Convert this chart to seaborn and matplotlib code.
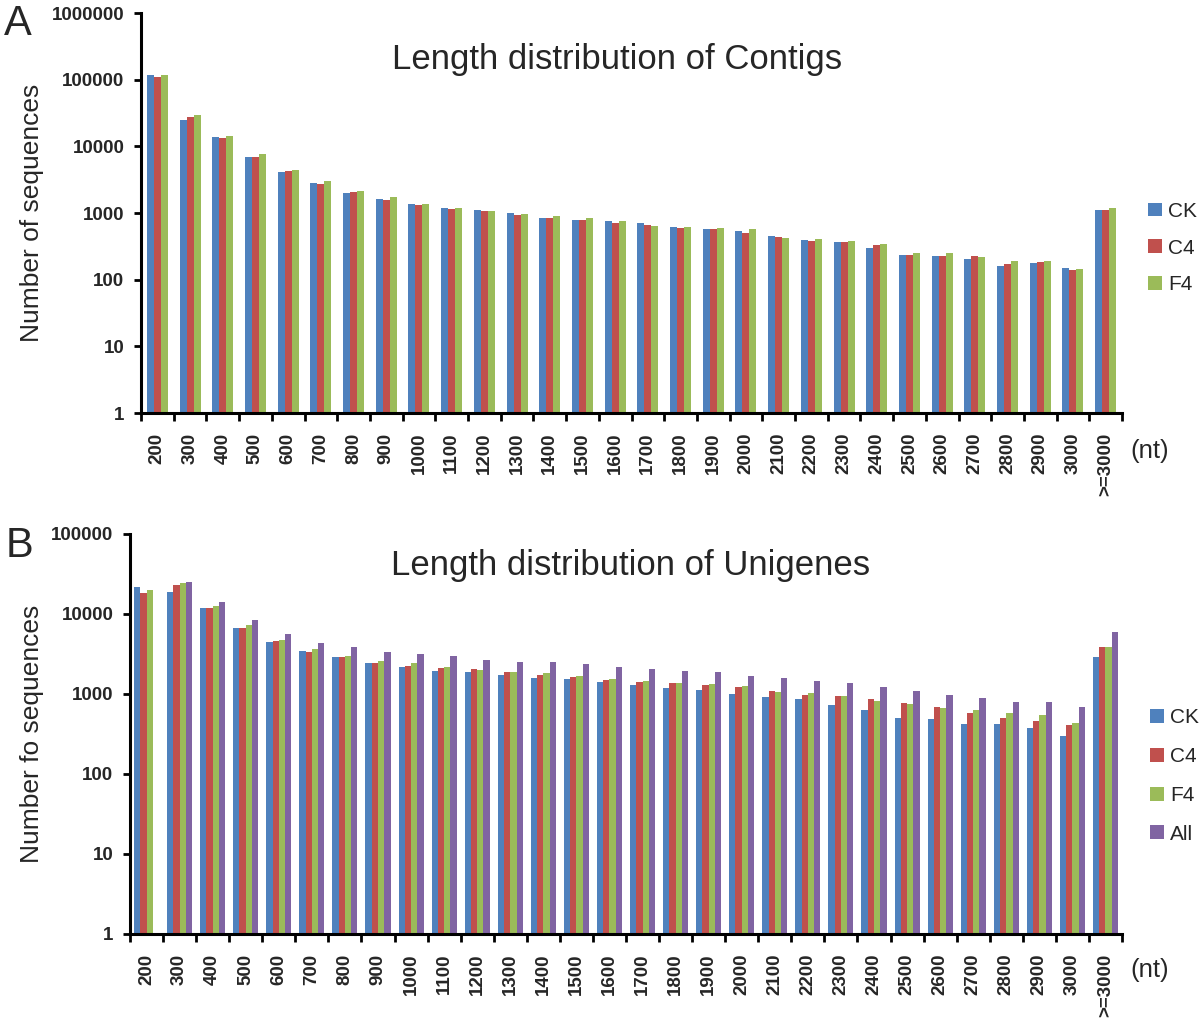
import numpy as np
import pandas as pd
import matplotlib
matplotlib.use("Agg")
import matplotlib.pyplot as plt
import seaborn as sns
from matplotlib.ticker import FixedLocator, NullLocator, FuncFormatter
from matplotlib.patches import Patch

# ---------------- data ----------------
lengths = ["200", "300", "400", "500", "600", "700", "800", "900", "1000", "1100",
           "1200", "1300", "1400", "1500", "1600", "1700", "1800", "1900", "2000",
           "2100", "2200", "2300", "2400", "2500", "2600", "2700", "2800", "2900",
           "3000", ">=3000"]

contig_ck = [119000, 24500, 13600, 6900, 4070, 2820, 2000, 1640, 1365, 1190,
             1096, 990, 840, 794, 767, 700, 617, 575, 537, 447,
             394, 367, 302, 234, 229, 202, 162, 176, 148, 1096]
contig_c4 = [110000, 28000, 13300, 6900, 4270, 2720, 2090, 1585, 1318, 1150,
             1070, 945, 840, 785, 716, 653, 596, 575, 495, 432,
             385, 367, 335, 232, 224, 224, 170, 182, 138, 1122]
contig_f4 = [116000, 29500, 14500, 7600, 4470, 3020, 2110, 1720, 1365, 1180,
             1060, 960, 890, 830, 759, 646, 610, 596, 569, 422,
             412, 380, 347, 254, 251, 219, 193, 188, 145, 1189]

uni_ck = [21500, 19000, 11900, 6600, 4430, 3420, 2870, 2470, 2200, 1960,
          1900, 1745, 1585, 1540, 1413, 1296, 1200, 1110, 1000, 909,
          875, 735, 637, 506, 482, 418, 418, 376, 301, 2900]
uni_c4 = [18500, 23300, 11800, 6680, 4600, 3350, 2870, 2470, 2240, 2110,
          2030, 1865, 1730, 1650, 1510, 1400, 1386, 1296, 1212, 1080,
          982, 935, 858, 765, 681, 579, 501, 460, 410, 3905]
uni_f4 = [19800, 24200, 12700, 7220, 4780, 3650, 2960, 2590, 2420, 2200,
          2010, 1865, 1830, 1690, 1540, 1454, 1360, 1334, 1259, 1059,
          1019, 935, 825, 750, 668, 631, 579, 546, 434, 3830]
uni_all = [np.nan, 25300, 14300, 8330, 5680, 4340, 3830, 3320, 3130, 2990,
           2690, 2510, 2490, 2370, 2154, 2073, 1920, 1884, 1679, 1585,
           1468, 1360, 1223, 1090, 972, 883, 802, 795, 688, 6010]

samples_a = ["CK", "C4", "F4"]
samples_b = ["CK", "C4", "F4", "All"]
colors = {"CK": "#4F81BD", "C4": "#C0504D", "F4": "#9BBB59", "All": "#8064A2"}

df_a = pd.DataFrame({
    "length": lengths * 3,
    "sample": sum([[s] * len(lengths) for s in samples_a], []),
    "count": contig_ck + contig_c4 + contig_f4,
})
df_b = pd.DataFrame({
    "length": lengths * 4,
    "sample": sum([[s] * len(lengths) for s in samples_b], []),
    "count": uni_ck + uni_c4 + uni_f4 + uni_all,
}).dropna()

# ---------------- style ----------------
sns.set_theme(style="white")
plt.rcParams['font.family'] = ['Liberation Sans', 'DejaVu Sans']

W, H = 1200, 1023
fig = plt.figure(figsize=(W / 100, H / 100), dpi=100)


def fx(px):
    return px / W


def fy(py):
    return 1 - py / H


ax1 = fig.add_axes([fx(141), fy(413), fx(1122 - 141), (413 - 13) / H])
ax2 = fig.add_axes([fx(130), fy(934), fx(1122 - 130), (934 - 534) / H])


def draw(ax, df, samples, width, ymax, ylabel):
    sns.barplot(data=df, x="length", y="count", hue="sample", order=lengths,
                hue_order=samples, palette=colors, width=width, errorbar=None,
                saturation=1, linewidth=0, legend=False, ax=ax)
    ax.set_yscale("log")
    ax.set_ylim(1, ymax)
    ax.set_xlim(-0.5, len(lengths) - 0.5)
    decades = [10 ** k for k in range(int(np.log10(ymax)) + 1)]
    ax.yaxis.set_major_locator(FixedLocator(decades))
    ax.yaxis.set_minor_locator(NullLocator())
    ax.yaxis.set_major_formatter(FuncFormatter(lambda v, p: f"{int(round(v))}"))
    ax.set_xticks(range(len(lengths)))
    ax.set_xticklabels(lengths, rotation=90, fontweight="bold", fontsize=13.5)
    ax.set_xticks(np.arange(-0.5, len(lengths), 1.0), minor=True)
    ax.tick_params(axis="x", which="major", length=0, pad=14)
    ax.tick_params(axis="x", which="minor", length=6, width=2, color="black",
                   direction="out", bottom=True)
    ax.tick_params(axis="y", which="major", length=5, width=2, color="black",
                   direction="out", left=True, pad=7, labelsize=13.5)
    for lab in ax.get_yticklabels():
        lab.set_fontweight("bold")
    ax.set_xlabel("")
    ax.set_ylabel(ylabel, fontsize=19)
    # right edge of the rotated y label at about x = 44 px in the figure
    pos = ax.get_position()
    ax.yaxis.set_label_coords((44 / W - pos.x0) / pos.width, 0.5)
    for side in ("top", "right"):
        ax.spines[side].set_visible(False)
    for side in ("left", "bottom"):
        ax.spines[side].set_color("black")
        ax.spines[side].set_linewidth(2.2)
    ax.set_facecolor("white")


draw(ax1, df_a, samples_a, 0.64, 1e6, "Number of sequences")
draw(ax2, df_b, samples_b, 0.76, 1e5, "Number fo sequences")

# titles
fig.text(fx(617), fy(60), "Length distribution of Contigs", ha="center",
         va="center", fontsize=25)
fig.text(fx(631), fy(566), "Length distribution of Unigenes", ha="center",
         va="center", fontsize=25)

# panel letters
fig.text(fx(4), fy(24), "A", ha="left", va="center", fontsize=30)
fig.text(fx(6), fy(546), "B", ha="left", va="center", fontsize=30)

# (nt)
fig.text(fx(1130), fy(451), "(nt)", ha="left", va="center", fontsize=18.5)
fig.text(fx(1130), fy(970), "(nt)", ha="left", va="center", fontsize=18.5)

# legends
h_a = [Patch(facecolor=colors[s], edgecolor="none", label=s) for s in samples_a]
h_b = [Patch(facecolor=colors[s], edgecolor="none", label=s) for s in samples_b]
fig.legend(handles=h_a, loc="center left", bbox_to_anchor=(fx(1138), fy(248)),
           frameon=False, fontsize=15, handlelength=0.65, handleheight=0.65,
           handletextpad=0.3, labelspacing=0.85, borderpad=0)
fig.legend(handles=h_b, loc="center left", bbox_to_anchor=(fx(1140), fy(776)),
           frameon=False, fontsize=15, handlelength=0.65, handleheight=0.65,
           handletextpad=0.3, labelspacing=0.95, borderpad=0)

fig.savefig("out.png", dpi=100, facecolor="white")
